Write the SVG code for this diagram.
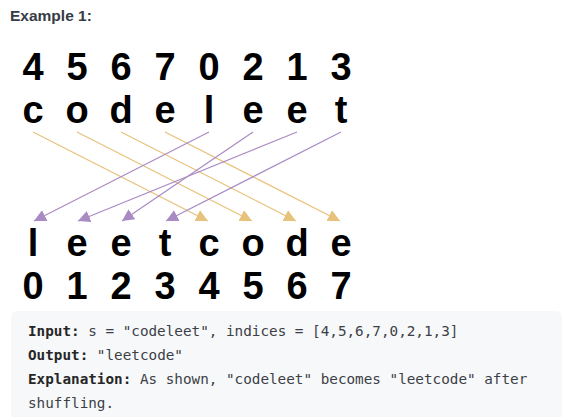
<svg xmlns="http://www.w3.org/2000/svg" width="567" height="417" viewBox="0 0 567 417">
<style>
.big{font-family:"Liberation Sans",Arial,sans-serif;font-weight:bold;font-size:38px;fill:#000;text-anchor:middle}
.title{font-family:"Liberation Sans",Arial,sans-serif;font-weight:bold;font-size:15.5px;fill:#363b45}
.mono{font-family:"DejaVu Sans Mono","Liberation Mono",monospace;font-size:14.3px;fill:#3c3f46}
.mono .b{font-weight:bold;fill:#262626}
.y{stroke:#e6c27a;stroke-width:1.2;fill:none;marker-end:url(#ay)}
.p{stroke:#a98bc4;stroke-width:1.2;fill:none;marker-end:url(#ap)}
</style>
<defs>
<marker id="ay" viewBox="0 0 10 10" refX="10" refY="5" markerWidth="12" markerHeight="12" markerUnits="userSpaceOnUse" orient="auto"><path d="M0,0 L10,5 L0,10 z" fill="#e6c27a"/></marker>
<marker id="ap" viewBox="0 0 10 10" refX="10" refY="5" markerWidth="12" markerHeight="12" markerUnits="userSpaceOnUse" orient="auto"><path d="M0,0 L10,5 L0,10 z" fill="#a98bc4"/></marker>
</defs>
<rect width="567" height="417" fill="#fff"/>
<text class="title" x="10" y="21">Example 1:</text>
<g id="top-indices">
<text class="big" x="33" y="80">4</text><text class="big" x="77" y="80">5</text><text class="big" x="121" y="80">6</text><text class="big" x="165" y="80">7</text><text class="big" x="209" y="80">0</text><text class="big" x="253" y="80">2</text><text class="big" x="297" y="80">1</text><text class="big" x="341" y="80">3</text>
</g>
<g id="s-c"><text class="big" x="33" y="123">c</text></g>
<g id="s-o"><text class="big" x="77" y="123">o</text></g>
<g id="s-d"><text class="big" x="121" y="123">d</text></g>
<g id="s-e1"><text class="big" x="165" y="123">e</text></g>
<g id="s-l"><text class="big" x="209" y="123">l</text></g>
<g id="s-e2"><text class="big" x="253" y="123">e</text></g>
<g id="s-e3"><text class="big" x="297" y="123">e</text></g>
<g id="s-t"><text class="big" x="341" y="123">t</text></g>
<g id="connectors">
<line class="y" x1="33" y1="132" x2="208" y2="221"/>
<line class="y" x1="77" y1="132" x2="252" y2="221"/>
<line class="y" x1="121" y1="132" x2="296" y2="221"/>
<line class="y" x1="165" y1="132" x2="340" y2="221"/>
<line class="p" x1="209" y1="132" x2="34" y2="221"/>
<line class="p" x1="253" y1="132" x2="122" y2="221"/>
<line class="p" x1="297" y1="132" x2="78" y2="221"/>
<line class="p" x1="341" y1="132" x2="166" y2="221"/>
</g>
<g id="r-l"><text class="big" x="33" y="256">l</text></g>
<g id="r-e1"><text class="big" x="77" y="256">e</text></g>
<g id="r-e2"><text class="big" x="121" y="256">e</text></g>
<g id="r-t"><text class="big" x="165" y="256">t</text></g>
<g id="r-c"><text class="big" x="209" y="256">c</text></g>
<g id="r-o"><text class="big" x="253" y="256">o</text></g>
<g id="r-d"><text class="big" x="297" y="256">d</text></g>
<g id="r-e3"><text class="big" x="341" y="256">e</text></g>
<g id="bottom-indices">
<text class="big" x="33" y="299">0</text><text class="big" x="77" y="299">1</text><text class="big" x="121" y="299">2</text><text class="big" x="165" y="299">3</text><text class="big" x="209" y="299">4</text><text class="big" x="253" y="299">5</text><text class="big" x="297" y="299">6</text><text class="big" x="341" y="299">7</text>
</g>
<g id="explanation">
<rect x="11" y="311" width="551" height="112" rx="6" fill="#f7f8fa"/>
<text class="mono" x="28" y="336"><tspan class="b">Input:</tspan> s = "codeleet", indices = [4,5,6,7,0,2,1,3]</text>
<text class="mono" x="28" y="360"><tspan class="b">Output:</tspan> "leetcode"</text>
<text class="mono" x="28" y="384"><tspan class="b">Explanation:</tspan> As shown, "codeleet" becomes "leetcode" after</text>
<text class="mono" x="28" y="408">shuffling.</text>
</g>
</svg>
